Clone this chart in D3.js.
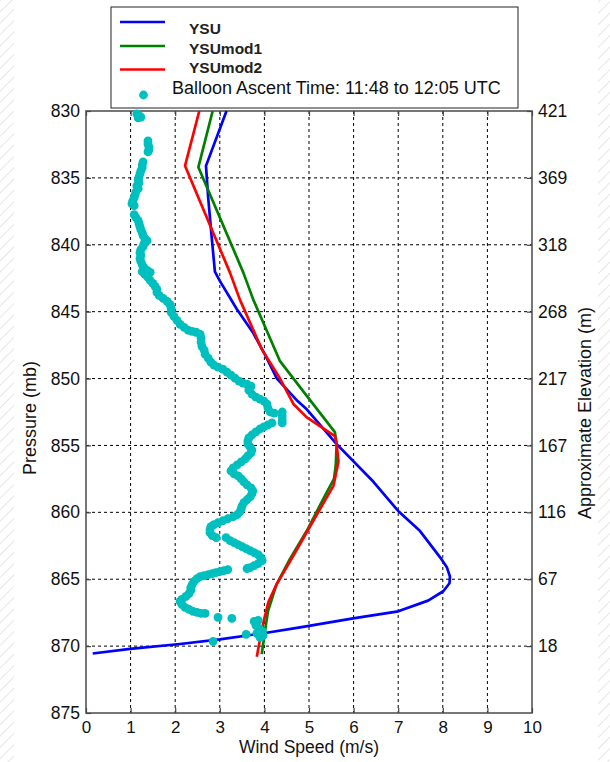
<!DOCTYPE html>
<html><head><meta charset="utf-8">
<script src="https://cdn.jsdelivr.net/npm/d3@7"></script>
<style>body{margin:0;background:#fff}text{font-family:Arial,"Liberation Sans",sans-serif}</style>
</head><body><svg id="c" width="610" height="762"></svg>
<script>
const speedTicks=[0,1,2,3,4,5,6,7,8,9,10];
const pressureTicks=[830,835,840,845,850,855,860,865,870,875];
const elevationTicks=[830,835,840,845,850,855,860,865,870];
const elevationLabels=["421","369","318","268","217","167","116","67","18"];
const seriesNames=["YSU","YSUmod1","YSUmod2"];
const balloonName="Balloon Ascent Time: 11:48 to 12:05 UTC";

const ysuSpeed=[3.15,2.69,2.74,2.82,2.89,3.00,3.38,3.75,4.01,4.28,4.75,4.95,5.62,6.44,7.00,7.49,7.97,8.09,8.16,8.15,8.01,7.67,7.00,5.99,4.80,4.05,3.00,2.11,0.99,0.15];
const ysuPressure=[830,834.1,836.5,839.5,842.0,842.7,844.8,846.6,848.2,850.0,851.7,852.3,854.9,857.7,859.9,861.4,863.5,864.1,864.8,865.3,865.9,866.6,867.4,867.93,868.6,869.0,869.5,869.84,870.2,870.55];

const mod1Speed=[2.84,2.52,3.53,3.75,4.35,4.95,5.58,5.62,5.60,5.56,5.32,4.98,4.57,4.27,4.08,4.03,3.94];
const mod1Pressure=[830,834.2,842.1,844.1,848.7,851.3,854.0,854.9,856.5,857.5,859.0,861.2,863.5,865.4,867.4,868.5,870.6];

const mod2Speed=[2.54,2.22,3.23,3.45,3.94,4.35,4.65,4.95,5.58,5.62,5.66,5.55,5.17,4.69,4.27,4.09,3.98,3.90,3.83];
const mod2Pressure=[830,834.1,842.1,844.1,847.8,850.0,851.9,852.9,854.3,854.9,856.2,858.0,860.2,863.0,865.4,866.7,868.2,869.5,870.8];

const balloonSpeed=[1.14,1.19,1.23,1.17,
1.39,1.39,1.41,1.41,1.39,
1.28,1.26,1.26,1.23,1.21,1.19,1.17,1.19,1.14,1.17,1.12,1.10,1.08,1.05,1.03,1.08,
1.08,1.12,1.17,1.19,1.21,1.23,1.26,1.28,1.32,1.37,1.30,1.28,1.23,1.21,1.23,1.21,1.23,1.26,1.30,1.37,1.44,
1.26,1.32,1.39,1.44,1.50,1.55,1.59,1.59,1.64,1.73,1.82,1.88,1.91,1.91,1.97,2.04,2.11,2.20,2.29,2.38,2.47,2.56,2.58,2.58,2.60,2.65,2.67,2.74,2.80,2.87,2.96,3.07,3.16,3.25,3.34,3.43,3.52,3.61,3.70,3.65,3.72,3.81,3.90,3.99,4.06,4.08,4.13,4.22,4.40,4.40,4.40,4.40,
4.17,4.08,3.99,3.90,3.81,3.72,3.65,3.63,3.63,3.68,3.72,3.70,3.63,3.57,3.48,3.39,3.30,3.25,3.32,3.41,3.48,3.54,3.61,3.70,3.74,3.72,3.68,3.61,3.54,3.50,3.48,3.45,3.39,3.30,3.18,3.07,2.96,2.87,2.80,2.78,2.78,2.83,2.92,
3.14,3.23,3.32,3.41,3.50,3.59,3.68,3.77,3.86,3.92,3.95,3.86,3.77,3.68,3.61,
3.18,3.09,3.00,2.91,2.83,2.74,2.65,2.56,2.49,2.42,2.38,2.35,2.35,2.31,2.24,2.15,2.11,2.15,2.22,2.31,2.40,2.49,2.58,2.67,
2.96,3.27,2.85,
3.77,3.86,3.81,3.88,3.95,3.83,3.97,3.59,3.90];
const balloonPressure=[830.22,830.37,830.45,830.52,
832.24,832.46,832.68,832.91,833.06,
833.80,834.02,834.25,834.47,834.69,834.92,835.14,835.37,835.59,835.81,836.04,836.26,836.48,836.71,836.93,837.08,
837.75,837.97,838.20,838.42,838.64,838.87,839.09,839.31,839.54,839.69,839.91,840.13,840.36,840.58,840.80,841.03,841.25,841.48,841.70,841.92,842.07,
842.00,842.22,842.44,842.67,842.89,843.11,843.34,843.56,843.79,844.01,844.23,844.46,844.75,845.05,845.35,845.65,845.95,846.17,846.39,846.47,846.54,846.69,846.99,847.29,847.59,847.88,848.18,848.48,848.78,849.00,849.15,849.30,849.52,849.75,849.97,850.19,850.34,850.42,850.57,850.86,851.16,851.39,851.54,851.68,851.91,852.21,852.50,852.58,852.50,852.80,853.10,853.32,
853.32,853.47,853.62,853.77,853.99,854.22,854.44,854.66,854.89,855.11,855.34,855.56,855.78,856.01,856.23,856.45,856.68,856.90,857.12,857.27,857.50,857.72,857.94,858.17,858.39,858.61,858.84,859.06,859.28,859.51,859.73,859.96,860.18,860.33,860.48,860.63,860.78,860.92,861.07,861.30,861.52,861.74,861.89,
861.89,862.12,862.27,862.41,862.56,862.71,862.86,863.01,863.16,863.38,863.61,863.83,863.98,864.13,864.20,
864.28,864.35,864.43,864.50,864.58,864.65,864.73,864.80,864.95,865.17,865.40,865.62,865.84,866.07,866.29,866.51,866.66,866.89,867.11,867.26,867.41,867.48,867.56,867.56,
867.85,867.93,869.64,
868.15,868.08,868.45,868.67,868.90,869.05,869.20,869.12,869.34];

const svg=d3.select("#c");
const L=86,R=532,T=111,B=713;
const x=d3.scaleLinear().domain([0,10]).range([L,R]);
const y=d3.scaleLinear().domain([830,875]).range([T,B]);

// faint edge hatching
const defs=svg.append("defs");
const pat=defs.append("pattern").attr("id","hatch").attr("width",8).attr("height",8)
  .attr("patternUnits","userSpaceOnUse").attr("patternTransform","rotate(45)");
pat.append("line").attr("x1",0).attr("y1",0).attr("x2",0).attr("y2",8).attr("stroke","#e6e6e6").attr("stroke-width",2);
svg.append("rect").attr("x",0).attr("y",0).attr("width",14).attr("height",762).attr("fill","url(#hatch)");
svg.append("rect").attr("x",598).attr("y",0).attr("width",12).attr("height",762).attr("fill","url(#hatch)");

svg.append("rect").attr("x",L).attr("y",T).attr("width",R-L).attr("height",B-T).attr("fill","#fff");

// grid
const grid=svg.append("g").attr("stroke","#000").attr("stroke-width",1).attr("stroke-dasharray","3,3");
grid.selectAll(".gx").data(speedTicks.slice(1,-1)).join("line")
  .attr("x1",d=>x(d)).attr("x2",d=>x(d)).attr("y1",T).attr("y2",B);
grid.selectAll(".gy").data(pressureTicks.slice(1,-1)).join("line")
  .attr("y1",d=>y(d)).attr("y2",d=>y(d)).attr("x1",L).attr("x2",R);

// axes
function styleAxis(g){g.select(".domain").remove();g.selectAll("line").attr("stroke","#444").attr("stroke-width",1.2);
  g.selectAll("text").attr("font-size",17.5).attr("fill","#111").attr("font-family","Arial, 'Liberation Sans', sans-serif");}
svg.append("g").attr("transform",`translate(${L},0)`).call(d3.axisLeft(y).tickValues(pressureTicks).tickSize(-5).tickSizeOuter(0).tickPadding(6)).call(styleAxis);
svg.append("g").attr("transform",`translate(${R},0)`).call(d3.axisRight(y).tickValues(elevationTicks).tickFormat((d,i)=>elevationLabels[i]).tickSize(-5).tickSizeOuter(0).tickPadding(6)).call(styleAxis);
const bx=svg.append("g").attr("transform",`translate(0,${B})`).call(d3.axisBottom(x).tickValues(speedTicks).tickSize(-5).tickSizeOuter(0).tickPadding(8)).call(styleAxis);
bx.selectAll("text").attr("font-size",17);
svg.append("g").attr("transform",`translate(0,${T})`).call(d3.axisTop(x).tickValues(speedTicks).tickSize(-5).tickSizeOuter(0).tickFormat("")).call(styleAxis);

// frame
svg.append("rect").attr("x",L).attr("y",T).attr("width",R-L).attr("height",B-T).attr("fill","none").attr("stroke","#4a4a4a").attr("stroke-width",1.5);

// lines
const line=d3.line().x(d=>x(d[0])).y(d=>y(d[1]));
const series=[[ysuSpeed,ysuPressure,"#0000ff"],[mod1Speed,mod1Pressure,"#008000"],[mod2Speed,mod2Pressure,"#ff0000"]];
series.forEach(([s,p,c])=>{
  svg.append("path").datum(s.map((v,i)=>[v,p[i]])).attr("d",line).attr("fill","none").attr("stroke",c).attr("stroke-width",2.7).attr("stroke-linejoin","round");
});
// balloon
svg.append("g").selectAll("circle").data(balloonSpeed.map((v,i)=>[v,balloonPressure[i]])).join("circle")
  .attr("cx",d=>x(d[0])).attr("cy",d=>y(d[1])).attr("r",4.4).attr("fill","#00bfbf");

// titles
svg.append("text").attr("x",(L+R)/2).attr("y",753).attr("text-anchor","middle").attr("font-size",17.5).attr("fill","#111").text("Wind Speed (m/s)");
svg.append("text").attr("transform","translate(36,418) rotate(-90)").attr("text-anchor","middle").attr("font-size",18).attr("fill","#111").text("Pressure (mb)");
svg.append("text").attr("transform","translate(591,413) rotate(-90)").attr("text-anchor","middle").attr("font-size",18).attr("fill","#111").text("Approximate Elevation (m)");

// legend
const lg=svg.append("g");
lg.append("rect").attr("x",111).attr("y",7).attr("width",407).attr("height",101).attr("fill","#fff").attr("stroke","#222").attr("stroke-width",1);
const ly=[22,46,69.5], ty=[33.5,53.5,72.5];
series.forEach(([s,p,c],i)=>{
  lg.append("line").attr("x1",120).attr("x2",165).attr("y1",ly[i]).attr("y2",ly[i]).attr("stroke",c).attr("stroke-width",2.7);
  lg.append("text").attr("x",189).attr("y",ty[i]).attr("font-size",15.5).attr("font-weight","bold").attr("fill","#222").text(seriesNames[i]);
});
lg.append("circle").attr("cx",143.5).attr("cy",95).attr("r",4.4).attr("fill","#00bfbf");
lg.append("text").attr("x",172).attr("y",94).attr("font-size",18).attr("fill","#111").text(balloonName);
</script></body></html>
